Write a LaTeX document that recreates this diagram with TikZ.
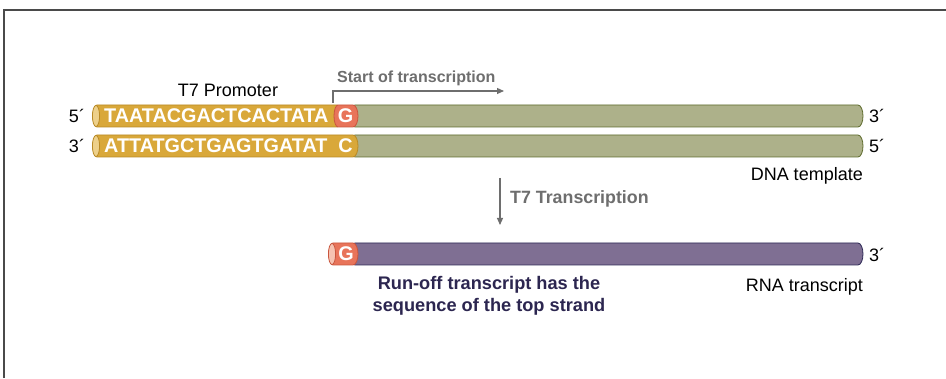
\documentclass[tikz,border=0pt]{standalone}
\usepackage{fontspec}
\setmainfont{Liberation Sans}
\usetikzlibrary{arrows.meta}

\definecolor{promoter}{HTML}{D9A83A}
\definecolor{promoterline}{HTML}{B98A26}
\definecolor{promotercap}{HTML}{EDD08A}
\definecolor{startbase}{HTML}{E8745A}
\definecolor{startline}{HTML}{C9553D}
\definecolor{startcap}{HTML}{F6C3B2}
\definecolor{dnabody}{HTML}{ADB18A}
\definecolor{dnaline}{HTML}{5F6C2E}
\definecolor{rnabody}{HTML}{7F6F93}
\definecolor{rnaline}{HTML}{2E2A56}
\definecolor{labelgray}{HTML}{6E6E6E}
\definecolor{navy}{HTML}{2C2650}
\definecolor{framegray}{HTML}{4A4A4A}

% strand segment: left x, right x, centre y, fill, outline
\newcommand\strandseg[5]{%
  \filldraw[fill=#4, draw=#5, line width=0.8pt]
    (#1,#3+11) -- (#2-5,#3+11)
    arc[start angle=90, end angle=-90, x radius=5, y radius=11]
    -- (#1,#3-11)
    arc[start angle=270, end angle=90, x radius=4, y radius=11] -- cycle;}
% open end of a strand seen as an ellipse
\newcommand\strandcap[4]{%
  \filldraw[fill=#3, draw=#4, line width=0.8pt]
    (#1,#2) ellipse[x radius=3.6, y radius=10.6];}

\tikzset{
  lbl/.style={font=\fontsize{18}{21}\selectfont, text=black, inner sep=0pt},
  base/.style={font=\bfseries\fontsize{19.8}{22}\selectfont, text=white, inner sep=0pt},
  graylbl/.style={font=\bfseries\fontsize{16}{18}\selectfont, text=labelgray, inner sep=0pt},
  note/.style={font=\bfseries\fontsize{18.2}{22}\selectfont, text=navy, inner sep=0pt, align=center},
  grayarrow/.style={draw=labelgray, line width=1.1pt, -{Triangle[length=7pt,width=6pt]}},
}

\begin{document}
\begin{tikzpicture}[x=1pt, y=1pt]
\useasboundingbox (0,0) rectangle (946,378);
\fill[white] (0,0) rectangle (946,378);

% frame edges
\draw[framegray, line width=1.2pt] (4,0) -- (4,368) -- (946,368);

% top strand (5' -> 3')
\strandseg{355}{863}{262}{dnabody}{dnaline}
\strandseg{97}{342}{262}{promoter}{promoterline}
\strandcap{96}{262}{promotercap}{promoterline}
\strandseg{338}{358}{262}{startbase}{startline}

% bottom strand (3' -> 5')
\strandseg{355}{863}{232}{dnabody}{dnaline}
\strandseg{97}{358}{232}{promoter}{promoterline}
\strandcap{96}{232}{promotercap}{promoterline}

% RNA transcript
\strandseg{355}{863}{124}{rnabody}{rnaline}
\strandseg{333}{358}{124}{startbase}{startline}
\strandcap{332}{124}{startcap}{startline}

% bases
\node[base, anchor=west] (topseq) at (104,262) {TAATACGACTCACTATA};
\node[base] (topG) at (345.5,262) {G};
\node[base, anchor=west] (botseq) at (104,232) {ATTATGCTGAGTGATAT};
\node[base] (botC) at (345.5,232) {C};
\node[base] (rnaG) at (346,124) {G};

% strand ends
\node[lbl] (t5) at (77,262) {5´};
\node[lbl] (b3) at (77,232) {3´};
\node[lbl] (t3) at (877,262) {3´};
\node[lbl] (b5) at (877,232) {5´};
\node[lbl] (r3) at (877,123) {3´};

% labels
\node[lbl] (promoterlbl) at (228,288) {T7 Promoter};
\node[lbl, anchor=east] (dnalbl) at (863,202) {DNA template};
\node[lbl, anchor=east] (rnalbl) at (863,91) {RNA transcript};
\node[graylbl, anchor=west] (startlbl) at (337,300) {Start of transcription};
\node[graylbl, anchor=west, font=\bfseries\fontsize{17.8}{20}\selectfont] (txlbl) at (510,179) {T7 Transcription};
\node[note] (runoff) at (489,82) {Run-off transcript has the\\sequence of the top strand};

% start of transcription bracket arrow
\coordinate (startfoot) at (333,275);
\coordinate (startcorner) at (333,287);
\coordinate (starttip) at (504,287);
\draw[grayarrow] (startfoot) -- (startcorner) -- (starttip);

% transcription step arrow
\coordinate (txtop) at (500,200);
\coordinate (txbot) at (500,153);
\draw[grayarrow] (txtop) -- (txbot);
\end{tikzpicture}
\end{document}
